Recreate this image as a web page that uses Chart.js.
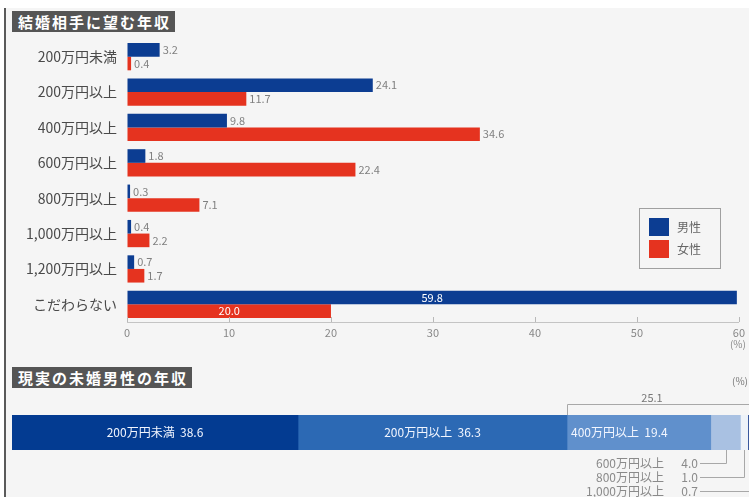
<!DOCTYPE html>
<html>
<head>
<meta charset="utf-8">
<script src="https://cdn.jsdelivr.net/npm/chart.js@4/dist/chart.umd.min.js"></script>
<style>
  html, body { margin: 0; padding: 0; background: #fff; overflow: hidden; }
  body { width: 749px; height: 497px; position: relative; font-family: "Noto Sans CJK JP", sans-serif; }
  #panel { position: absolute; left: 4px; top: 8px; width: 745px; height: 489px; background: #f5f5f5; border-left: 2px solid #5a5a5a; }
  .title { position: absolute; left: 12px; background: #555; color: #fff; font-weight: bold; font-size: 15px; line-height: 21px; padding: 0 4px 0 6px; letter-spacing: 2px; }
  canvas { position: absolute; }
</style>
</head>
<body>
<div id="panel"></div>
<div class="title" style="top:11px">結婚相手に望む年収</div>
<div class="title" style="top:367px">現実の未婚男性の年収</div>
<canvas id="wish-chart" width="749" height="350" style="left:0;top:0"></canvas>
<canvas id="real-chart" width="741" height="122" style="left:12px;top:375px"></canvas>
<script>
const FONT = '"Noto Sans CJK JP", sans-serif';

// 結婚相手に望む年収 (%)
const categories = ['200万円未満', '200万円以上', '400万円以上', '600万円以上', '800万円以上', '1,000万円以上', '1,200万円以上', 'こだわらない'];
const maleValues = [3.2, 24.1, 9.8, 1.8, 0.3, 0.4, 0.7, 59.8];
const femaleValues = [0.4, 11.7, 34.6, 22.4, 7.1, 2.2, 1.7, 20.0];
const xTicks = [0, 10, 20, 30, 40, 50, 60];

// 現実の未婚男性の年収 (%)
const incomeLabels = ['200万円未満', '200万円以上', '400万円以上', '600万円以上', '800万円以上', '1,000万円以上'];
const incomeShares = [38.6, 36.3, 19.4, 4.0, 1.0, 0.7];
const incomeColors = ['#033b91', '#2c69b4', '#6090cc', '#a9c1e2', '#edf2f8', '#1b3f8e'];

const BLUE = '#0c3d92';
const RED = '#e5331f';

// 棒の数値ラベル（最後の行だけ棒の中に白で）
const barValueLabels = {
  id: 'barValueLabels',
  afterDatasetsDraw(chart) {
    const ctx = chart.ctx;
    ctx.save();
    ctx.font = '11px ' + FONT;
    ctx.textBaseline = 'middle';
    chart.data.datasets.forEach((ds, di) => {
      chart.getDatasetMeta(di).data.forEach((bar, i) => {
        const text = ds.data[i].toFixed(1);
        if (i === ds.data.length - 1) {
          ctx.fillStyle = '#fff';
          ctx.textAlign = 'center';
          ctx.fillText(text, (bar.base + bar.x) / 2, bar.y);
        } else {
          ctx.fillStyle = '#808080';
          ctx.textAlign = 'left';
          ctx.fillText(text, bar.x + 3, bar.y);
        }
      });
    });
    ctx.restore();
  }
};

// 内向きの目盛りと (%) 表示
const axisExtras = {
  id: 'axisExtras',
  afterDraw(chart) {
    const ctx = chart.ctx;
    const x = chart.scales.x;
    ctx.save();
    ctx.strokeStyle = '#b8b8b8';
    ctx.lineWidth = 1;
    x.ticks.forEach(t => {
      const px = Math.round(x.getPixelForValue(t.value)) + 0.5;
      ctx.beginPath();
      ctx.moveTo(px, x.top);
      ctx.lineTo(px, x.top - 5);
      ctx.stroke();
    });
    ctx.fillStyle = '#888';
    ctx.font = '10px ' + FONT;
    ctx.textAlign = 'center';
    ctx.textBaseline = 'middle';
    ctx.fillText('(%)', x.right - 1, 344);
    ctx.restore();
  }
};

// 凡例（グラフ内の右側に枠付き）
const boxLegend = {
  id: 'boxLegend',
  afterDraw(chart) {
    const ctx = chart.ctx;
    ctx.save();
    ctx.strokeStyle = '#a0a0a0';
    ctx.lineWidth = 1;
    ctx.strokeRect(639.5, 208.5, 81, 60);
    ctx.font = '12px ' + FONT;
    ctx.textBaseline = 'middle';
    ctx.textAlign = 'left';
    chart.data.datasets.forEach((ds, i) => {
      const y = 218 + i * 22;
      ctx.fillStyle = ds.backgroundColor;
      ctx.fillRect(649, y, 20, 18);
      ctx.fillStyle = '#666';
      ctx.fillText(ds.label, 677, y + 9);
    });
    ctx.restore();
  }
};

new Chart(document.querySelector('#wish-chart').getContext('2d'), {
  type: 'bar',
  data: {
    labels: categories,
    datasets: [
      { label: '男性', data: maleValues, backgroundColor: BLUE },
      { label: '女性', data: femaleValues, backgroundColor: RED },
    ],
  },
  options: {
    indexAxis: 'y',
    responsive: false,
    animation: false,
    categoryPercentage: 0.77,
    barPercentage: 1,
    layout: { padding: { top: 39, right: 9, left: 0, bottom: 0 } },
    plugins: { legend: { display: false }, tooltip: { enabled: false } },
    scales: {
      y: {
        afterFit: s => { s.width = 127; },
        grid: { display: false },
        border: { display: false },
        ticks: { color: '#4a4a4a', font: { family: FONT, size: 14 }, padding: 2 },
      },
      x: {
        min: 0,
        max: 60,
        afterFit: s => { s.height = 28; },
        afterBuildTicks: s => { s.ticks = xTicks.map(v => ({ value: v })); },
        grid: { drawOnChartArea: false, drawTicks: false },
        border: { color: '#c4c4c4' },
        ticks: { color: '#888', font: { family: FONT, size: 11 }, padding: 4 },
      },
    },
  },
  plugins: [barValueLabels, axisExtras, boxLegend],
});

// 帯グラフ上の文字・25.1 の括弧・引き出し線
const bandLabels = {
  id: 'bandLabels',
  afterDraw(chart) {
    const ctx = chart.ctx;
    const x = chart.scales.x;
    const area = chart.chartArea;
    const starts = [];
    let acc = 0;
    incomeShares.forEach(v => { starts.push(acc); acc += v; });
    ctx.save();
    ctx.textBaseline = 'middle';
    const midY = (area.top + area.bottom) / 2;

    // 帯の中の文字
    ctx.font = '12px ' + FONT;
    ctx.fillStyle = '#f2f6ff';
    for (let i = 0; i < 3; i++) {
      const text = incomeLabels[i] + '  ' + incomeShares[i].toFixed(1);
      const x0 = x.getPixelForValue(starts[i]);
      const x1 = x.getPixelForValue(starts[i] + incomeShares[i]);
      if (i < 2) {
        ctx.textAlign = 'center';
        ctx.fillText(text, (x0 + x1) / 2, midY);
      } else {
        ctx.textAlign = 'left';
        ctx.fillText(text, x0 + 4, midY);
      }
    }

    // 400万円以上の合計の括弧
    const groupStart = starts[2];
    const groupTotal = incomeShares.slice(2).reduce((a, b) => a + b, 0);
    const bx0 = Math.round(x.getPixelForValue(groupStart)) + 0.5;
    const bx1 = Math.round(x.getPixelForValue(groupStart + groupTotal)) - 0.5;
    const by = area.top - 10.5;
    ctx.strokeStyle = '#a8a8a8';
    ctx.lineWidth = 1;
    ctx.beginPath();
    ctx.moveTo(bx0, area.top);
    ctx.lineTo(bx0, by);
    ctx.lineTo(bx1, by);
    ctx.lineTo(bx1, area.top);
    ctx.stroke();
    ctx.fillStyle = '#777';
    ctx.font = '11px ' + FONT;
    ctx.textAlign = 'center';
    ctx.fillText(groupTotal.toFixed(1), (bx0 + bx1) / 2 - 8, by - 7);

    // (%)
    ctx.font = '10px ' + FONT;
    ctx.fillText('(%)', 728, 6);

    // 小さい区分の引き出し線
    ctx.font = '12px ' + FONT;
    for (let i = 3; i < incomeShares.length; i++) {
      const ly = area.bottom + 13 + (i - 3) * 14;
      const cx = Math.round(x.getPixelForValue(starts[i] + incomeShares[i] / 2)) + 0.5;
      ctx.fillStyle = '#8a8a8a';
      ctx.textAlign = 'right';
      ctx.fillText(incomeLabels[i], 652, ly);
      ctx.fillText(incomeShares[i].toFixed(1), 686, ly);
      ctx.beginPath();
      ctx.moveTo(688, Math.round(ly) + 0.5);
      ctx.lineTo(cx, Math.round(ly) + 0.5);
      ctx.lineTo(cx, area.bottom);
      ctx.stroke();
    }
    ctx.restore();
  }
};

new Chart(document.querySelector('#real-chart').getContext('2d'), {
  type: 'bar',
  data: {
    labels: [''],
    datasets: incomeShares.map((v, i) => ({
      label: incomeLabels[i],
      data: [v],
      backgroundColor: incomeColors[i],
    })),
  },
  options: {
    indexAxis: 'y',
    responsive: false,
    animation: false,
    categoryPercentage: 1,
    barPercentage: 1,
    layout: { padding: { top: 40, bottom: 47, left: 0, right: 0 } },
    plugins: { legend: { display: false }, tooltip: { enabled: false } },
    scales: {
      x: { stacked: true, min: 0, max: 100, display: false },
      y: { stacked: true, display: false },
    },
  },
  plugins: [bandLabels],
});
</script>
</body>
</html>
